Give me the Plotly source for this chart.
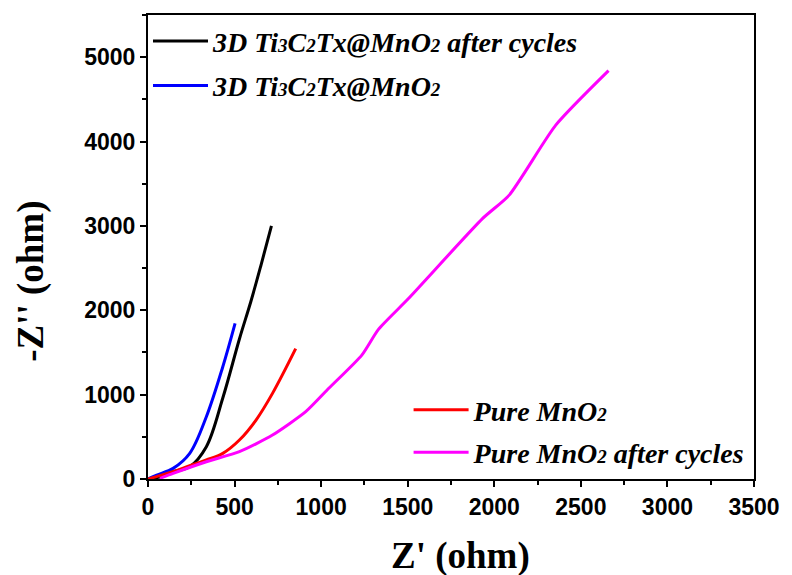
import plotly.graph_objects as go

# Nyquist data (Z' vs -Z'') for the four electrodes
ti_after_x = [0, 60, 145, 241, 337, 432, 528, 595, 652, 713]
ti_after_y = [0, 20, 87, 146, 383, 960, 1660, 2110, 2530, 3000]

ti_x = [0, 50, 145, 241, 337, 432, 503]
ti_y = [0, 47, 126, 304, 738, 1331, 1845]

mno2_x = [0, 145, 241, 337, 432, 528, 624, 719, 853]
mno2_y = [0, 87, 158, 225, 304, 462, 699, 1015, 1545]

mno2_after_x = [69, 145, 337, 528, 719, 911, 1044, 1235, 1331, 1503, 1933, 2086, 2355, 2660]
mno2_after_y = [8, 67, 205, 324, 521, 798, 1075, 1469, 1774, 2136, 3089, 3365, 4194, 4840]

x_ticks = [0, 500, 1000, 1500, 2000, 2500, 3000, 3500]
y_ticks = [0, 1000, 2000, 3000, 4000, 5000]


def small(s):
    # smaller digits sitting near the baseline, as in chemical formulas
    return f'<span style="font-size:19px">{s}</span>'


ti_label = f"3D Ti{small(3)}C{small(2)}Tx@MnO{small(2)}"
mno2_label = f"Pure MnO{small(2)}"

fig = go.Figure()

fig.add_trace(go.Scatter(
    x=ti_after_x, y=ti_after_y, mode="lines", line=dict(color="black", width=3, shape="spline"),
    name=ti_label + " after cycles", legend="legend", legendgroup="a"))
fig.add_trace(go.Scatter(
    x=ti_x, y=ti_y, mode="lines", line=dict(color="#0000ff", width=3, shape="spline"),
    name=ti_label, legend="legend", legendgroup="b"))
fig.add_trace(go.Scatter(
    x=mno2_x, y=mno2_y, mode="lines", line=dict(color="#ff0000", width=3, shape="spline"),
    name=mno2_label, legend="legend2", legendgroup="c"))
fig.add_trace(go.Scatter(
    x=mno2_after_x, y=mno2_after_y, mode="lines",
    line=dict(color="#ff00ff", width=3, shape="spline", smoothing=0.6),
    name=mno2_label + " after cycles", legend="legend2", legendgroup="d"))

legend_font = dict(family="Liberation Serif", size=28, color="black", weight="bold", style="italic")
title_font = dict(family="Liberation Serif", size=37, color="black", weight="bold")

axis_common = dict(
    showline=True, linecolor="black", linewidth=2, mirror=True,
    ticks="outside", ticklen=6, tickwidth=2, tickcolor="black",
    showgrid=False, zeroline=False,
    tickfont=dict(family="Liberation Sans", size=23, color="black", weight="bold"),
)

fig.update_layout(
    width=792, height=575,
    margin=dict(l=148, r=34, t=15, b=96),
    paper_bgcolor="white", plot_bgcolor="white",
    xaxis=dict(
        range=[0, 3500], tickvals=x_ticks,
        minor=dict(ticks="outside", ticklen=4, tickwidth=2, tickcolor="black", dtick=250),
        **axis_common),
    yaxis=dict(
        range=[0, 5500], tickvals=y_ticks,
        minor=dict(ticks="outside", ticklen=4, tickwidth=2, tickcolor="black", dtick=500),
        **axis_common),
    legend=dict(
        x=0.0, y=0.997, xanchor="left", yanchor="top",
        bgcolor="rgba(0,0,0,0)", font=legend_font, itemwidth=55,
        tracegroupgap=5, traceorder="grouped"),
    legend2=dict(
        x=0.43, y=0.004, xanchor="left", yanchor="bottom",
        bgcolor="rgba(0,0,0,0)", font=legend_font, itemwidth=55,
        tracegroupgap=3, traceorder="grouped"),
    annotations=[
        dict(text="Z' (ohm)", xref="paper", yref="paper", x=0.515, y=-0.167,
             xanchor="center", yanchor="middle", showarrow=False, font=title_font),
        dict(text="-Z'' (ohm)", xref="paper", yref="paper", x=-0.193, y=0.425,
             xanchor="center", yanchor="middle", textangle=-90, showarrow=False, font=title_font),
    ],
)

fig.write_html("out.html")
